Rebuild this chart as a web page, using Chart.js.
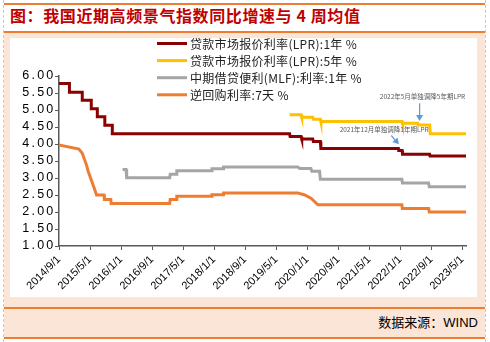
<!DOCTYPE html>
<html>
<head>
<meta charset="utf-8">
<script src="https://cdn.jsdelivr.net/npm/chart.js@4/dist/chart.umd.min.js"></script>
<style>
  html, body { margin: 0; padding: 0; width: 490px; height: 342px; overflow: hidden; background: #fff; }
  #frame { position: absolute; left: 3px; top: 0; width: 481px; height: 342px;
           border-left: 1px dashed #c8c8c8; border-right: 1px dashed #c8c8c8; }
  .rule { position: absolute; left: 4px; width: 481px; height: 2px; background: #ED7D31; }
  #title { position: absolute; left: 10px; top: 3px; height: 26px; line-height: 26px;
           font: bold 16px "Noto Sans CJK SC"; color: #C00000; letter-spacing: 0.6px; white-space: nowrap; }
  #band { position: absolute; left: 4px; top: 33px; width: 481px; height: 274px; background: #FBE5D6; }
  #plot { position: absolute; left: 10px; top: 38px; width: 467px; height: 259px; background: #fff; }
  #foot { position: absolute; left: 4px; top: 309px; width: 481px; height: 28px; background: #FBE5D6; }
  #src { position: absolute; right: 12px; top: 312px; line-height: 17px; font: 13px "Noto Sans CJK SC"; color: #000; white-space: nowrap; }
  #src span { font-family: "Liberation Sans", Arial; }
</style>
</head>
<body>
<div id="frame"></div>
<div class="rule" style="top:3px"></div>
<div id="title">图：我国近期高频景气指数同比增速与 4 周均值</div>
<div class="rule" style="top:31px"></div>
<div id="band"></div>
<div id="plot"><canvas id="chart" width="467" height="259"></canvas></div>
<div class="rule" style="top:307px"></div>
<div id="foot"></div>
<div id="src">数据来源：<span>WIND</span></div>
<div class="rule" style="top:337px"></div>

<script>
// x axis ticks (every 8 months from 2014/9/1)
const tickLabels = ['2014/9/1', '2015/5/1', '2016/1/1', '2016/9/1', '2017/5/1', '2018/1/1', '2018/9/1',
                    '2019/5/1', '2020/1/1', '2020/9/1', '2021/5/1', '2022/1/1', '2022/9/1', '2023/5/1'];
const tickDates = ['2014-09-01', '2015-05-01', '2016-01-01', '2016-09-01', '2017-05-01', '2018-01-01', '2018-09-01',
                   '2019-05-01', '2020-01-01', '2020-09-01', '2021-05-01', '2022-01-01', '2022-09-01', '2023-05-01'];

// 贷款市场报价利率(LPR):1年
const lpr1yDates = ['2014-09-01', '2014-11-22', '2014-11-22', '2015-03-01', '2015-03-01', '2015-05-11', '2015-05-11',
                    '2015-06-28', '2015-06-28', '2015-08-26', '2015-08-26', '2015-10-24', '2015-10-24', '2019-08-16',
                    '2019-08-20', '2019-11-15', '2019-11-20', '2020-02-15', '2020-02-20', '2020-04-14', '2020-04-18',
                    '2021-12-18', '2021-12-21', '2022-01-17', '2022-01-20', '2022-08-20', '2022-08-23', '2023-06-01'];
const lpr1yValues = [5.78, 5.78, 5.52, 5.52, 5.29, 5.29, 5.04,
                     5.04, 4.80, 4.80, 4.55, 4.55, 4.30, 4.30,
                     4.22, 4.22, 4.15, 4.15, 4.07, 4.07, 3.87,
                     3.87, 3.81, 3.81, 3.70, 3.70, 3.65, 3.65];

// 贷款市场报价利率(LPR):5年
const lpr5yDates = ['2019-08-16', '2019-11-15', '2019-11-20', '2020-02-15', '2020-02-20', '2020-04-14', '2020-04-18',
                    '2022-01-17', '2022-01-20', '2022-05-18', '2022-05-21', '2022-08-20', '2022-08-25', '2023-06-01'];
const lpr5yValues = [4.86, 4.86, 4.79, 4.79, 4.73, 4.73, 4.66,
                     4.66, 4.61, 4.61, 4.56, 4.56, 4.30, 4.30];

// 中期借贷便利(MLF):利率:1年
const mlfDates = ['2016-01-13', '2016-02-10', '2016-02-15', '2017-01-18', '2017-01-22', '2017-03-09', '2017-03-13',
                  '2017-12-11', '2017-12-15', '2018-03-11', '2018-03-15', '2019-10-20', '2019-11-05', '2020-02-01',
                  '2020-02-08', '2020-04-08', '2020-04-14', '2022-01-15', '2022-01-19', '2022-08-12', '2022-08-17',
                  '2023-06-01'];
const mlfValues = [3.25, 3.25, 3.01, 3.01, 3.11, 3.11, 3.21,
                   3.21, 3.27, 3.27, 3.32, 3.32, 3.28, 3.28,
                   3.20, 3.20, 2.96, 2.96, 2.85, 2.85, 2.74,
                   2.74];

// 逆回购利率:7天
const repoDates = ['2014-09-01', '2015-02-05', '2015-03-01', '2015-04-04', '2015-04-17', '2015-05-26', '2015-06-22',
                   '2015-08-20', '2015-08-23', '2015-10-12', '2015-10-15', '2017-01-18', '2017-01-22', '2017-03-09',
                   '2017-03-13', '2017-12-11', '2017-12-15', '2018-03-11', '2018-03-15', '2019-10-20', '2019-12-13',
                   '2020-02-04', '2020-03-25', '2022-01-15', '2022-01-19', '2022-08-12', '2022-08-17', '2023-06-01'];
const repoValues = [3.97, 3.85, 3.73, 3.38, 3.20, 2.79, 2.50,
                    2.50, 2.37, 2.37, 2.25, 2.25, 2.37, 2.37,
                    2.46, 2.46, 2.51, 2.51, 2.56, 2.56, 2.50,
                    2.40, 2.21, 2.21, 2.10, 2.10, 2.00, 2.00];

// callouts: text anchor, arrow start, arrow end (date, value)
const notes = [
  { text: '2022年5月单独调降5年期LPR', at: ['2022-06-25', 5.40], from: ['2022-06-02', 5.20], to: ['2022-06-02', 4.68] },
  { text: '2021年12月单独调降1年期LPR', at: ['2021-08-28', 4.42], from: ['2021-10-23', 4.25], to: ['2021-12-22', 3.99] }
];

function monthsSince(s) {
  const [y, m, d] = s.split('-').map(Number);
  return (y - 2014) * 12 + (m - 9) + (d - 1) / 30.5;
}
function toPoints(dates, values) {
  return dates.map((d, i) => ({ x: monthsSince(d), y: values[i] }));
}
const tickMonths = tickDates.map(monthsSince);

const yTickText = {
  id: 'yTickText',
  afterDraw(chart) {
    const s = chart.scales.y, ctx = chart.ctx;
    ctx.save();
    ctx.font = '12.5px "Liberation Sans", Arial';
    ctx.letterSpacing = '2.2px';
    ctx.fillStyle = '#000';
    ctx.textAlign = 'right';
    ctx.textBaseline = 'middle';
    s.ticks.forEach(t => ctx.fillText(t.value.toFixed(2), s.right - 3.5, s.getPixelForValue(t.value)));
    ctx.restore();
  }
};

const overlayLegend = {
  id: 'overlayLegend',
  afterDraw(chart) {
    const ctx = chart.ctx;
    ctx.save();
    ctx.font = '12px "Noto Sans CJK SC"';
    ctx.letterSpacing = '0.3px';
    ctx.textBaseline = 'middle';
    chart.data.datasets.forEach((ds, i) => {
      const y = 5.5 + i * 17.1;
      ctx.strokeStyle = ds.borderColor;
      ctx.lineWidth = 3;
      ctx.beginPath();
      ctx.moveTo(147, y);
      ctx.lineTo(177, y);
      ctx.stroke();
      ctx.fillStyle = '#222';
      ctx.fillText(ds.label, 180, y + 1);
    });
    ctx.restore();
  }
};

const callouts = {
  id: 'callouts',
  afterDatasetsDraw(chart) {
    const ctx = chart.ctx, sx = chart.scales.x, sy = chart.scales.y;
    const px = p => [sx.getPixelForValue(monthsSince(p[0])), sy.getPixelForValue(p[1])];
    ctx.save();
    notes.forEach(n => {
      const [tx, ty] = px(n.at), [x0, y0] = px(n.from), [x1, y1] = px(n.to);
      ctx.font = '6.5px "Noto Sans CJK SC"';
      ctx.fillStyle = '#595959';
      ctx.textAlign = 'center';
      ctx.textBaseline = 'middle';
      ctx.fillText(n.text, tx, ty);
      const ang = Math.atan2(y1 - y0, x1 - x0), head = 6;
      const bx = x1 - head * Math.cos(ang), by = y1 - head * Math.sin(ang);
      ctx.strokeStyle = '#5B9BD5';
      ctx.fillStyle = '#5B9BD5';
      ctx.lineWidth = 1.2;
      ctx.beginPath();
      ctx.moveTo(x0, y0);
      ctx.lineTo(bx, by);
      ctx.stroke();
      ctx.beginPath();
      ctx.moveTo(x1, y1);
      ctx.lineTo(bx + 3.5 * Math.sin(ang), by - 3.5 * Math.cos(ang));
      ctx.lineTo(bx - 3.5 * Math.sin(ang), by + 3.5 * Math.cos(ang));
      ctx.closePath();
      ctx.fill();
    });
    ctx.restore();
  }
};

new Chart(document.getElementById('chart'), {
  type: 'line',
  data: {
    datasets: [
      { label: '贷款市场报价利率(LPR):1年 %', data: toPoints(lpr1yDates, lpr1yValues), borderColor: '#8B0000' },
      { label: '贷款市场报价利率(LPR):5年 %', data: toPoints(lpr5yDates, lpr5yValues), borderColor: '#FFC000' },
      { label: '中期借贷便利(MLF):利率:1年 %', data: toPoints(mlfDates, mlfValues), borderColor: '#A5A5A5' },
      { label: '逆回购利率:7天 %', data: toPoints(repoDates, repoValues), borderColor: '#ED7D31' }
    ]
  },
  options: {
    responsive: false,
    animation: false,
    layout: { padding: { left: 0, right: 11, top: 38, bottom: 0 } },
    elements: {
      line: { borderWidth: 3, tension: 0, fill: false },
      point: { radius: 0 }
    },
    plugins: { legend: { display: false }, tooltip: { enabled: false } },
    scales: {
      x: {
        type: 'linear',
        min: 0,
        max: 105,
        afterBuildTicks: s => { s.ticks = tickMonths.map(v => ({ value: v })); },
        afterFit: s => { s.height = 51; },
        ticks: {
          autoSkip: false,
          minRotation: 45,
          maxRotation: 45,
          color: '#000',
          font: { family: '"Liberation Sans", Arial', size: 11 },
          callback: (v, i) => tickLabels[i]
        },
        grid: { drawOnChartArea: false, color: '#595959', tickLength: 4 },
        border: { color: '#595959', width: 1.5 }
      },
      y: {
        min: 1,
        max: 6,
        afterFit: s => { s.width = 49; },
        ticks: { stepSize: 0.5, display: false },
        grid: { drawOnChartArea: false, color: '#595959', tickLength: 4 },
        border: { color: '#595959', width: 1.5 }
      }
    }
  },
  plugins: [yTickText, overlayLegend, callouts]
});
</script>
</body>
</html>
